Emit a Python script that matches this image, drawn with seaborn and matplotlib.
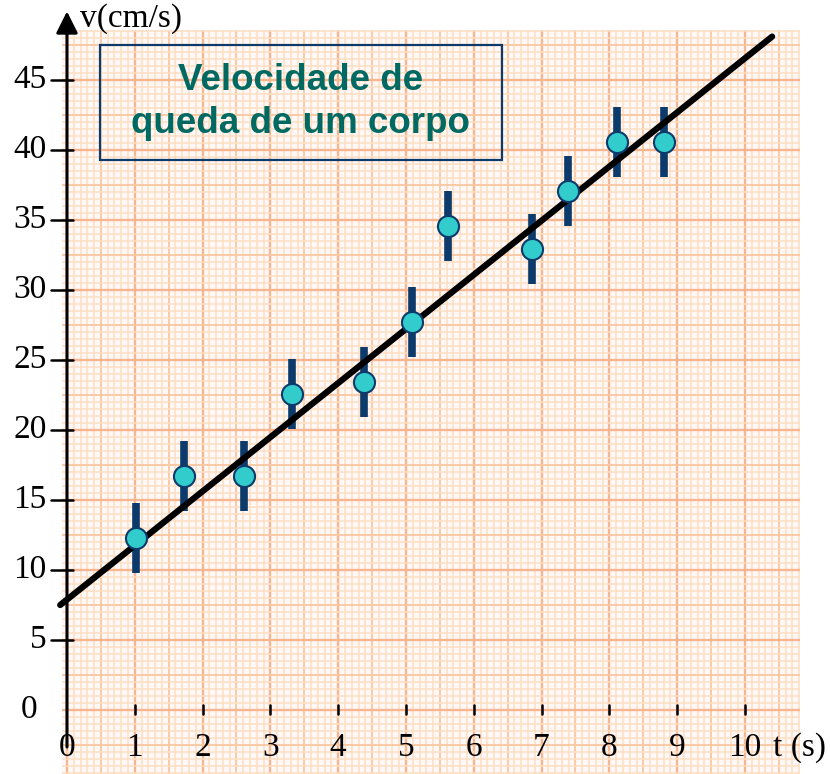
import numpy as np
import pandas as pd
import matplotlib
matplotlib.use("Agg")
import matplotlib.pyplot as plt
from matplotlib.patches import Rectangle
import seaborn as sns

# measured points: time (s), speed (cm/s), half error bar
t_vals = [1.02, 1.73, 2.61, 3.32, 4.38, 5.09, 5.62, 6.86, 7.39, 8.11, 8.81]
v_vals = [12.3, 16.7, 16.7, 22.6, 23.4, 27.7, 34.6, 32.9, 37.1, 40.6, 40.6]
v_err = [2.5] * 11

# straight line drawn through the points (end points)
fit_t = [-0.10, 10.40]
fit_v = [7.5, 48.1]

x_ticks = list(range(0, 11))
y_ticks = list(range(5, 50, 5))
title_text = "Velocidade de\nqueda de um corpo"

SERIF = ["Liberation Serif", "DejaVu Serif"]
NAVY = "#0b3a6b"
TEAL = "#006a62"

sns.set_theme(style="white")
plt.rcParams["font.family"] = SERIF
plt.rcParams["text.color"] = "black"

fig = plt.figure(figsize=(8.3, 7.74), dpi=100)
ax = fig.add_axes([0, 0, 1, 1])

# graph paper
px0, px1, py0, py1 = -0.07, 10.81, -4.6, 48.57
ax.add_patch(Rectangle((px0, py0), px1 - px0, py1 - py0, facecolor="#fff8f7",
                       edgecolor="none", zorder=0))


def paper_style(k):
    if k % 10 == 0:
        return "#f7b68f", 1.7
    if k % 5 == 0:
        return "#facaa5", 1.4
    return "#fddfc2", 1.1


for x in np.arange(0, px1, 0.1):
    c, lw = paper_style(int(round(x * 10)))
    ax.vlines(x, py0, py1, color=c, lw=lw, zorder=1)
for y in np.arange(-4.5, py1, 0.5):
    c, lw = paper_style(int(round(y * 2)))
    ax.hlines(y, px0, px1, color=c, lw=lw, zorder=1)

# axes with arrows
arrow = dict(arrowstyle="-|>,head_length=0.6,head_width=0.3", lw=2.2,
             color="black", mutation_scale=22, shrinkA=0, shrinkB=0)
ax.annotate("", xy=(0, 49.9), xytext=(0, -2.64), arrowprops=arrow, zorder=5)
ax.annotate("", xy=(11.37, 0), xytext=(-0.44, 0), arrowprops=arrow, zorder=5)
for y in y_ticks:
    ax.plot([-0.24, 0.09], [y, y], color="black", lw=1.8, zorder=5)
    ax.text(-0.30, y, str(y), ha="right", va="center", fontsize=24, zorder=6)
ax.text(-0.44, 0, "0", ha="right", va="center", fontsize=24, zorder=6)
for x in x_ticks:
    if x > 0:
        ax.plot([x, x], [-0.3, 0.35], color="black", lw=1.8, zorder=5)
    ax.text(x, -2.7, str(x), ha="center", va="center", fontsize=24, zorder=6)
ax.text(10.8, -2.7, "t (s)", ha="center", va="center", fontsize=24, zorder=6)
ax.text(0.19, 49.4, "v(cm/s)", ha="left", va="center", fontsize=24, zorder=6)

# title box
ax.add_patch(Rectangle((0.487, 39.29), 5.93, 8.21, facecolor="none",
                       edgecolor=NAVY, lw=1.6, zorder=4))
ax.text(3.45, 43.45, title_text, ha="center", va="center", fontsize=26.5,
        fontweight="bold", color=TEAL, linespacing=1.3,
        family=["Liberation Sans", "DejaVu Sans"], zorder=6)

df = pd.DataFrame({"t": t_vals, "v": v_vals, "err": v_err})
ax.errorbar(df["t"], df["v"], yerr=df["err"], fmt="none", ecolor=NAVY,
            elinewidth=5.5, capsize=0, zorder=7)
sns.lineplot(x=fit_t, y=fit_v, color="black", lw=4.5, ax=ax, zorder=8)
sns.scatterplot(data=df, x="t", y="v", s=230, color="#33cccc", edgecolor=NAVY,
                linewidth=1.5, ax=ax, zorder=9)
ax.set_xlim(-0.988, 11.254)
ax.set_ylim(-4.571, 50.714)
ax.axis("off")

fig.savefig("out.png", dpi=100)
